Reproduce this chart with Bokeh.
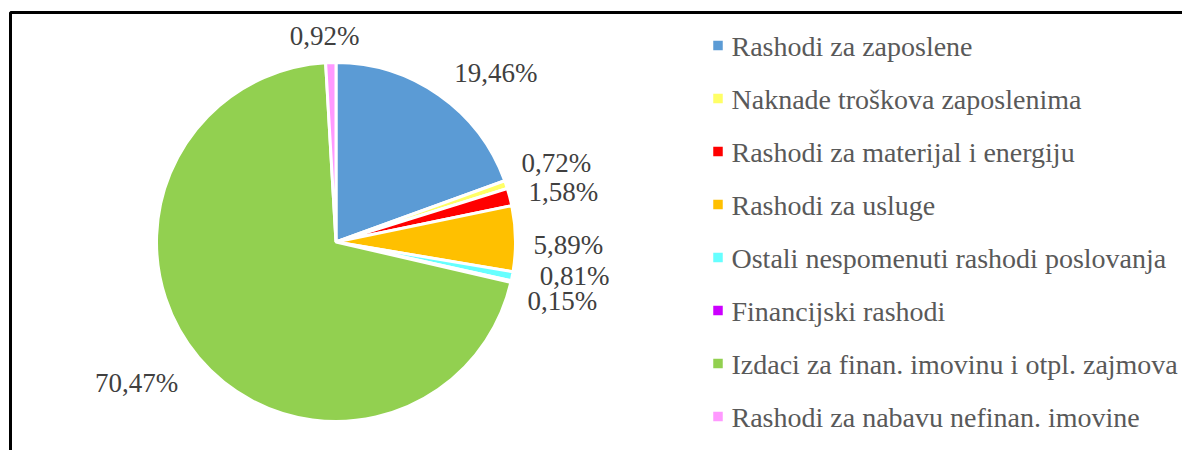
import math
from bokeh.plotting import figure
from bokeh.models import Range1d, ColumnDataSource
from bokeh.core.properties import value
from bokeh.embed import file_html
from bokeh.resources import INLINE

# ---- data ----
categories = [
    "Rashodi za zaposlene",
    "Naknade troškova zaposlenima",
    "Rashodi za materijal i energiju",
    "Rashodi za usluge",
    "Ostali nespomenuti rashodi poslovanja",
    "Financijski rashodi",
    "Izdaci za finan. imovinu i otpl. zajmova",
    "Rashodi za nabavu nefinan. imovine",
]
shares = [19.46, 0.72, 1.58, 5.89, 0.81, 0.15, 70.47, 0.92]
labels = ["19,46%", "0,72%", "1,58%", "5,89%", "0,81%", "0,15%", "70,47%", "0,92%"]

# ---- styles / layout ----
colors = ["#5B9BD5", "#FFFF66", "#FF0000", "#FFC000", "#66FFFF", "#CC00FF", "#92D050", "#FF99FF"]
W, H = 1182, 450
CX, CY, R = 335.5, H - 241.5, 179.5          # pie centre / radius in px
label_r = [233, 234, 233, 232.5, 241, 234, 244, 206]
label_nudge_deg = [8.3, -1.0, 2.0, 1.7, -2.8, 2.0, 5.0, -1.5]
SERIF = value("Liberation Serif")

p = figure(width=W, height=H, output_backend="svg", toolbar_location=None,
           x_range=Range1d(0, W), y_range=Range1d(0, H),
           x_axis_type=None, y_axis_type=None, min_border=0)
p.grid.visible = False
p.outline_line_color = None
p.background_fill_color = "white"
p.border_fill_color = "white"

total = sum(shares)
starts, ends, lx, ly = [], [], [], []
cum = 0.0
for i, s in enumerate(shares):
    a0 = cum / total
    a1 = (cum + s) / total
    cum += s
    # clockwise from 12 o'clock
    starts.append(math.pi / 2 - a1 * 2 * math.pi)
    ends.append(math.pi / 2 - a0 * 2 * math.pi)
    mid = (a0 + a1) / 2 * 2 * math.pi + math.radians(label_nudge_deg[i])
    lx.append(CX + label_r[i] * math.sin(mid))
    ly.append(CY + label_r[i] * math.cos(mid))

src = ColumnDataSource(dict(start=starts, end=ends, color=colors,
                            x=[CX] * len(shares), y=[CY] * len(shares)))
p.wedge(x="x", y="y", radius=R, start_angle="start", end_angle="end",
        fill_color="color", line_color="white", line_width=3, source=src)

p.text(x=lx, y=ly, text=labels, text_font=SERIF, text_font_size="27px",
       text_color="#404040", text_align="center", text_baseline="middle")

# legend (manual)
LEG_X, LEG_Y0, LEG_DY = 731, H - 45.5, 53.0
leg_y = [LEG_Y0 - i * LEG_DY for i in range(len(categories))]
p.scatter(x=[LEG_X - 13.5] * len(categories), y=[y + 0.5 for y in leg_y],
          marker="square", size=9.5, fill_color=colors, line_color=None)
p.text(x=[LEG_X] * len(categories), y=leg_y, text=categories, text_font=SERIF,
       text_font_size="28px", text_color="#595959", text_align="left",
       text_baseline="middle")

# chart border (only top and left edges visible in the crop)
p.line(x=[10, 10, W + 5], y=[-5, H - 12, H - 12], line_color="black", line_width=3)

open("out.html", "w").write(file_html(p, INLINE))
